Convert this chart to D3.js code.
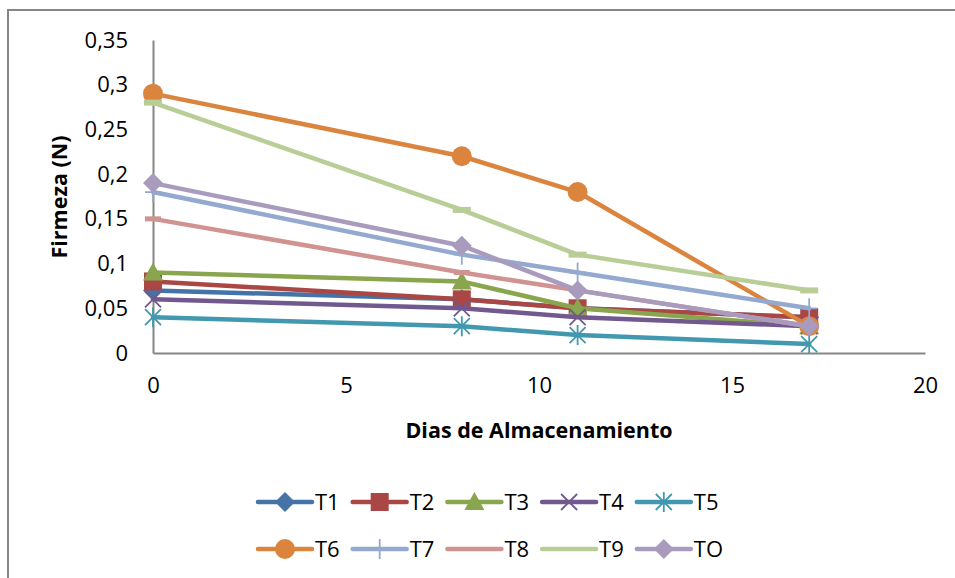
<!DOCTYPE html>
<html>
<head>
<meta charset="utf-8">
<script src="https://cdn.jsdelivr.net/npm/d3@7"></script>
<style>
  html, body { margin: 0; padding: 0; background: #fff; }
  svg { display: block; font-family: "Open Sans", "Liberation Sans", sans-serif; }
</style>
</head>
<body>
<svg id="chart" width="955" height="578"></svg>
<script>
// Storage days (x) and firmness readings (N) per treatment
const dias = [0, 8, 11, 17];
const series = ["T1", "T2", "T3", "T4", "T5", "T6", "T7", "T8", "T9", "TO"];
const T1 = [0.07, 0.06, 0.05, 0.04];
const T2 = [0.08, 0.06, 0.05, 0.04];
const T3 = [0.09, 0.08, 0.05, 0.03];
const T4 = [0.06, 0.05, 0.04, 0.03];
const T5 = [0.04, 0.03, 0.02, 0.01];
const T6 = [0.29, 0.22, 0.18, 0.03];
const T7 = [0.18, 0.11, 0.09, 0.05];
const T8 = [0.15, 0.09, 0.07, 0.03];
const T9 = [0.28, 0.16, 0.11, 0.07];
const TO = [0.19, 0.12, 0.07, 0.03];
const values = { T1, T2, T3, T4, T5, T6, T7, T8, T9, TO };
const xTicks = [0, 5, 10, 15, 20];
const yTicks = [0, 0.05, 0.1, 0.15, 0.2, 0.25, 0.3, 0.35];

const colors = {
  T1: "#4572A7", T2: "#AA4643", T3: "#89A54E", T4: "#71588F", T5: "#4198AF",
  T6: "#DB843D", T7: "#93A9CF", T8: "#D19392", T9: "#B9CD96", TO: "#A99BBD"
};
const markers = {
  T1: "diamond", T2: "square", T3: "triangle", T4: "x", T5: "star",
  T6: "circle", T7: "plus", T8: "shortdash", T9: "dash", TO: "diamond"
};

const svg = d3.select("#chart");

// outer chart frame
svg.append("rect")
  .attr("x", 8).attr("y", 10).attr("width", 960).attr("height", 580)
  .attr("fill", "none").attr("stroke", "#868686").attr("stroke-width", 2);

const x = d3.scaleLinear().domain([0, 20]).range([153, 925]);
const y = d3.scaleLinear().domain([0, 0.35]).range([353, 40]);

const fmt = d => String(+d.toFixed(2)).replace(".", ",");

// axes
const gx = svg.append("g").attr("transform", `translate(0,${y(0)})`)
  .call(d3.axisBottom(x).tickValues(xTicks).tickSize(0).tickPadding(24).tickFormat(d3.format("d")));
const gy = svg.append("g").attr("transform", `translate(${x(0)},0)`)
  .call(d3.axisLeft(y).tickValues(yTicks).tickSize(0).tickPadding(25).tickFormat(fmt));
[gx, gy].forEach(g => {
  g.attr("font-size", 22).attr("font-family", "'Open Sans', sans-serif");
  g.select(".domain").attr("stroke", "#868686").attr("stroke-width", 2);
  g.selectAll("text").attr("fill", "#000");
});

// axis titles
svg.append("text")
  .attr("x", 539).attr("y", 438).attr("text-anchor", "middle")
  .attr("font-size", 21.5).attr("font-weight", "bold").text("Dias de Almacenamiento");
svg.append("text")
  .attr("transform", "translate(67,197) rotate(-90)").attr("text-anchor", "middle")
  .attr("font-size", 21.5).attr("font-weight", "bold").text("Firmeza (N)");

// marker shapes
function drawMarker(g, type, color, cx, cy) {
  const s = 9;
  if (type === "diamond") {
    g.append("path").attr("d", `M${cx},${cy - 10}L${cx + 10},${cy}L${cx},${cy + 10}L${cx - 10},${cy}Z`)
      .attr("fill", color);
  } else if (type === "square") {
    g.append("rect").attr("x", cx - s).attr("y", cy - s).attr("width", 2 * s).attr("height", 2 * s)
      .attr("fill", color);
  } else if (type === "triangle") {
    g.append("path").attr("d", `M${cx},${cy - 10}L${cx + 10},${cy + 8}L${cx - 10},${cy + 8}Z`)
      .attr("fill", color);
  } else if (type === "circle") {
    g.append("circle").attr("cx", cx).attr("cy", cy).attr("r", 10).attr("fill", color);
  } else if (type === "x") {
    g.append("path").attr("d", `M${cx - 8},${cy - 8}L${cx + 8},${cy + 8}M${cx - 8},${cy + 8}L${cx + 8},${cy - 8}`)
      .attr("stroke", color).attr("stroke-width", 1.8).attr("fill", "none");
  } else if (type === "star") {
    g.append("path").attr("d",
      `M${cx - 8},${cy - 8}L${cx + 8},${cy + 8}M${cx - 8},${cy + 8}L${cx + 8},${cy - 8}M${cx},${cy - 10}L${cx},${cy + 10}`)
      .attr("stroke", color).attr("stroke-width", 1.8).attr("fill", "none");
  } else if (type === "plus") {
    g.append("path").attr("d", `M${cx},${cy - 10}L${cx},${cy + 10}M${cx - 8},${cy}L${cx + 8},${cy}`)
      .attr("stroke", color).attr("stroke-width", 1.8).attr("fill", "none");
  } else if (type === "dash") {
    g.append("rect").attr("x", cx - 9).attr("y", cy - 3).attr("width", 18).attr("height", 6)
      .attr("fill", color);
  } else if (type === "shortdash") {
    g.append("rect").attr("x", cx - 8).attr("y", cy - 2.5).attr("width", 16).attr("height", 5)
      .attr("fill", color);
  }
}

const line = d3.line().x((d, i) => x(dias[i])).y(d => y(d));
const plot = svg.append("g");
series.forEach(name => {
  const g = plot.append("g");
  g.append("path").datum(values[name]).attr("d", line)
    .attr("fill", "none").attr("stroke", colors[name]).attr("stroke-width", 4.5)
    .attr("stroke-linejoin", "round").attr("stroke-linecap", "round");
  values[name].forEach((v, i) => drawMarker(g, markers[name], colors[name], x(dias[i]), y(v)));
});

// legend: two rows of five (dash markers blend into the legend line)
const legend = svg.append("g");
series.forEach((name, i) => {
  const row = Math.floor(i / 5), col = i % 5;
  const lx = 258 + col * 94.7, ly = 502 + row * 47;
  const g = legend.append("g");
  g.append("line").attr("x1", lx).attr("x2", lx + 54).attr("y1", ly).attr("y2", ly)
    .attr("stroke", colors[name]).attr("stroke-width", 4.5).attr("stroke-linecap", "round");
  if (!/dash/.test(markers[name])) drawMarker(g, markers[name], colors[name], lx + 27, ly);
  g.append("text").attr("x", lx + 57).attr("y", ly + 8).attr("font-size", 22).text(name);
});
</script>
</body>
</html>
